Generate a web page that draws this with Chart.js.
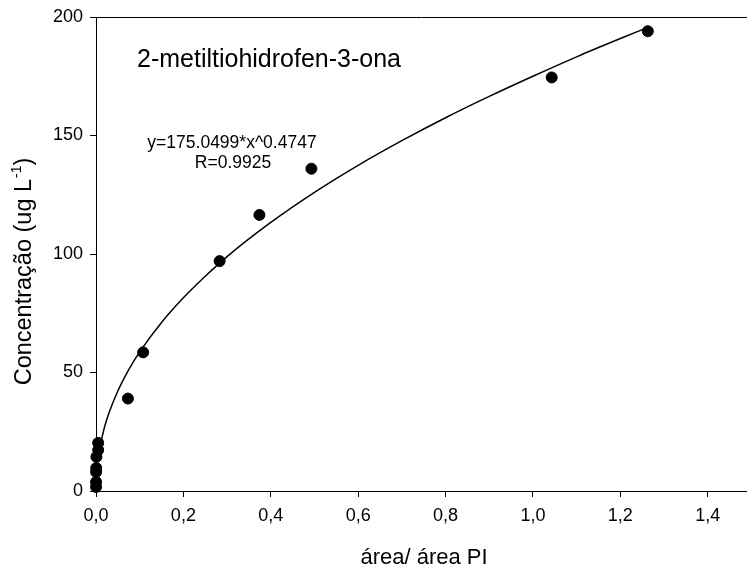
<!DOCTYPE html>
<html>
<head>
<meta charset="utf-8">
<script src="https://cdn.jsdelivr.net/npm/chart.js@4.4.1/dist/chart.umd.min.js"></script>
<style>
  html, body { margin: 0; padding: 0; background: #fff; }
  #wrap { width: 747px; height: 575px; }
</style>
</head>
<body>
<div id="wrap"><canvas id="chart" width="747" height="575"></canvas></div>
<script>
// measured points (área/área PI vs concentração)
const areaRatio = [0.005, 0.005, 0.001, 0.0005, 0.0003, 0.0002, 0.0001, 0.073, 0.108, 0.283, 0.374, 0.493, 1.043, 1.263];
const concentration = [20.3, 17.3, 14.4, 9.7, 8.0, 3.8, 1.7, 39, 58.5, 97, 116.5, 136, 174.5, 194];

// fitted curve
const curveX = [0.01, 0.02, 0.03, 0.05, 0.075, 0.1, 0.15, 0.2, 0.25, 0.3, 0.4, 0.5, 0.6, 0.7, 0.8, 0.9, 1.0, 1.1, 1.2, 1.263];
const curveY = [19.7, 27.3, 33.1, 42.2, 51.2, 58.7, 71.1, 81.5, 90.6, 98.9, 113.3, 126.0, 137.4, 147.8, 157.5, 166.5, 175.0, 183.2, 190.9, 195.6];

const xTicks = [0, 0.2, 0.4, 0.6, 0.8, 1.0, 1.2, 1.4];
const yTicks = [0, 50, 100, 150, 200];

const titleText = '2-metiltiohidrofen-3-ona';
const equationText = 'y=175.0499*x^0.4747';
const rText = 'R=0.9925';
const xTitle = 'área/ área PI';
const yTitle = 'Concentração (ug L';

const FONT = '"Liberation Sans", Arial, sans-serif';

const pts = areaRatio.map((x, i) => ({ x: x, y: concentration[i] }));
const curve = curveX.map((x, i) => ({ x: x, y: curveY[i] }));

// top frame line, axis titles and text annotations
const extras = {
  id: 'extras',
  afterDraw(chart) {
    const ctx = chart.ctx;
    const a = chart.chartArea;
    ctx.save();
    ctx.strokeStyle = '#000';
    ctx.lineWidth = 1;
    ctx.beginPath();
    ctx.moveTo(a.left, Math.round(a.top) + 0.5);
    ctx.lineTo(a.right, Math.round(a.top) + 0.5);
    ctx.stroke();

    ctx.fillStyle = '#000';
    ctx.textBaseline = 'alphabetic';

    ctx.font = '25px ' + FONT;
    ctx.textAlign = 'left';
    ctx.fillText(titleText, 137, 67);

    ctx.font = '17.5px ' + FONT;
    ctx.textAlign = 'center';
    ctx.fillText(equationText, 232, 148);
    ctx.fillText(rText, 233, 168);

    ctx.font = '22px ' + FONT;
    ctx.fillText(xTitle, 424, 564);

    // y title with superscript
    ctx.translate(31, 272);
    ctx.rotate(-Math.PI / 2);
    ctx.textAlign = 'left';
    ctx.font = '23.5px ' + FONT;
    const w1 = ctx.measureText(yTitle).width;
    ctx.font = '14px ' + FONT;
    const w2 = ctx.measureText('-1').width;
    ctx.font = '23.5px ' + FONT;
    const w3 = ctx.measureText(')').width;
    const x0 = -(w1 + w2 + w3) / 2;
    ctx.fillText(yTitle, x0, 0);
    ctx.font = '14px ' + FONT;
    ctx.fillText('-1', x0 + w1 + 1, -10);
    ctx.font = '23.5px ' + FONT;
    ctx.fillText(')', x0 + w1 + w2 + 1, 0);
    ctx.restore();
  }
};

new Chart(document.getElementById('chart'), {
  type: 'scatter',
  data: {
    datasets: [
      {
        type: 'line',
        data: curve,
        borderColor: '#000',
        borderWidth: 1.5,
        pointRadius: 0,
        fill: false,
        cubicInterpolationMode: 'monotone',
        clip: false
      },
      {
        data: pts,
        backgroundColor: '#000',
        borderColor: '#000',
        pointRadius: 5.5,
        pointHoverRadius: 5.5,
        clip: false
      }
    ]
  },
  options: {
    responsive: false,
    animation: false,
    events: [],
    layout: { autoPadding: false, padding: { top: 17, left: 0, right: 0, bottom: 0 } },
    plugins: {
      legend: { display: false },
      tooltip: { enabled: false }
    },
    scales: {
      x: {
        type: 'linear',
        min: 0,
        max: 1.49,
        afterFit(s) { s.height = 84; s.paddingLeft = 0; s.paddingRight = 0; },
        afterBuildTicks(s) { s.ticks = xTicks.map(v => ({ value: v })); },
        border: { display: true, color: '#000', width: 1 },
        grid: { drawOnChartArea: false, drawTicks: true, tickLength: 6, color: '#000' },
        ticks: {
          color: '#000',
          padding: 8,
          font: { family: FONT, size: 18 },
          callback: v => v.toFixed(1).replace('.', ',')
        }
      },
      y: {
        min: 0,
        max: 200,
        afterFit(s) { s.width = 96; s.paddingTop = 0; s.paddingBottom = 0; },
        afterBuildTicks(s) { s.ticks = yTicks.map(v => ({ value: v })); },
        border: { display: true, color: '#000', width: 1 },
        grid: { drawOnChartArea: false, drawTicks: true, tickLength: 6, color: '#000' },
        ticks: {
          color: '#000',
          padding: 7,
          font: { family: FONT, size: 18 },
          callback: v => String(v)
        }
      }
    }
  },
  plugins: [extras]
});
</script>
</body>
</html>
